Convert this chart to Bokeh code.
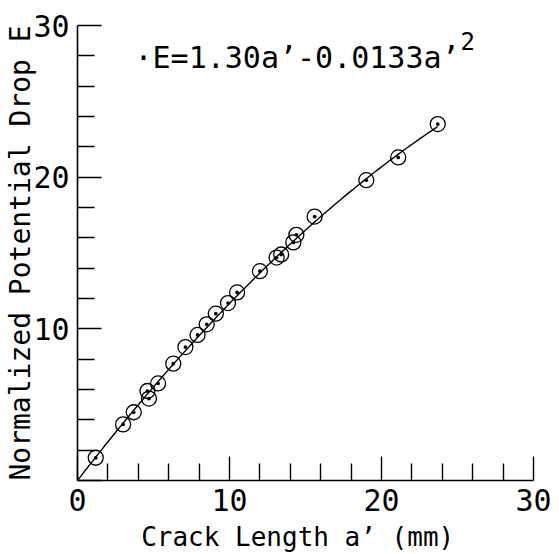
import numpy as np
from bokeh.plotting import figure
from bokeh.models import Range1d, Label, FixedTicker
from bokeh.embed import file_html
from bokeh.resources import INLINE

# ---- data ----
crack_length = [1.2, 3.0, 3.7, 4.6, 4.7, 5.3, 6.3, 7.1, 7.9, 8.5, 9.1, 9.9,
                10.5, 12.0, 13.1, 13.4, 14.2, 14.4, 15.6, 19.0, 21.1, 23.7]
potential_drop = [1.5, 3.7, 4.5, 5.9, 5.4, 6.4, 7.7, 8.8, 9.6, 10.3, 11.0, 11.7,
                  12.4, 13.8, 14.7, 14.9, 15.7, 16.2, 17.4, 19.8, 21.3, 23.5]

# fitted curve E = c1 a' - c2 a'^2 (coefficients as printed on the chart)
fit_c1 = 1.30
fit_c2 = 0.0133
fit_a_max = 23.7

major_ticks = [0, 10, 20, 30]
minor_ticks = [2, 4, 6, 8, 12, 14, 16, 18, 22, 24, 26, 28]
x_tick_labels = {0: "0", 10: "10", 20: "20", 30: "30"}
y_tick_labels = {0: "", 10: "10", 20: "20", 30: "30"}

x_title = "Crack Length a’  (mm)"
y_title = "Normalized Potential Drop E"
eq_text = "·E=1.30a’-0.0133a’"
eq_sup = "2"

FONT = "DejaVu Sans Mono"

p = figure(width=559, height=554, x_range=Range1d(0, 30), y_range=Range1d(0, 30),
           output_backend="svg", toolbar_location=None,
           min_border_left=77, min_border_right=26, min_border_top=25, min_border_bottom=74)
p.outline_line_color = None
p.xgrid.visible = False
p.ygrid.visible = False
p.background_fill_color = "white"
p.border_fill_color = "white"

for ax, labels in ((p.xaxis[0], x_tick_labels), (p.yaxis[0], y_tick_labels)):
    ax.ticker = FixedTicker(ticks=major_ticks, minor_ticks=minor_ticks)
    ax.major_label_overrides = labels
    ax.axis_line_width = 1.6
    ax.axis_line_color = "black"
    ax.major_tick_line_width = 1.4
    ax.minor_tick_line_width = 1.4
    ax.major_tick_line_color = "black"
    ax.minor_tick_line_color = "black"
    ax.major_tick_in = 24
    ax.major_tick_out = 0
    ax.minor_tick_in = 17
    ax.minor_tick_out = 0
    ax.major_label_text_font = FONT
    ax.major_label_text_font_size = "30px"
    ax.major_label_text_color = "black"
    ax.major_label_text_font_style = "normal"
    ax.axis_label_text_font = FONT
    ax.axis_label_text_font_style = "normal"
    ax.axis_label_text_color = "black"

p.xaxis[0].major_label_standoff = 8
p.xaxis[0].axis_label = x_title
p.xaxis[0].axis_label_text_font_size = "26px"
p.xaxis[0].axis_label_standoff = 8

p.yaxis[0].major_label_standoff = 8
p.yaxis[0].major_label_orientation = "horizontal"
p.yaxis[0].axis_label = y_title
p.yaxis[0].axis_label_text_font_size = "28px"
p.yaxis[0].axis_label_standoff = -7

# fitted line
a_fit = np.linspace(0, fit_a_max, 120)
e_fit = fit_c1 * a_fit - fit_c2 * a_fit ** 2
p.line(a_fit, e_fit, line_color="black", line_width=1.4)

# data points
p.scatter(crack_length, potential_drop, marker="circle_dot", size=15,
          fill_color=None, line_color="black", line_width=1.3)

# equation
p.add_layout(Label(x=3.75, y=27.9, text=eq_text, text_font=FONT,
                   text_font_size="30px", text_align="left", text_baseline="middle",
                   text_color="black"))
p.add_layout(Label(x=25.2, y=29.0, text=eq_sup, text_font=FONT,
                   text_font_size="24px", text_align="left", text_baseline="middle",
                   text_color="black"))

open("out.html", "w").write(file_html(p, INLINE))
